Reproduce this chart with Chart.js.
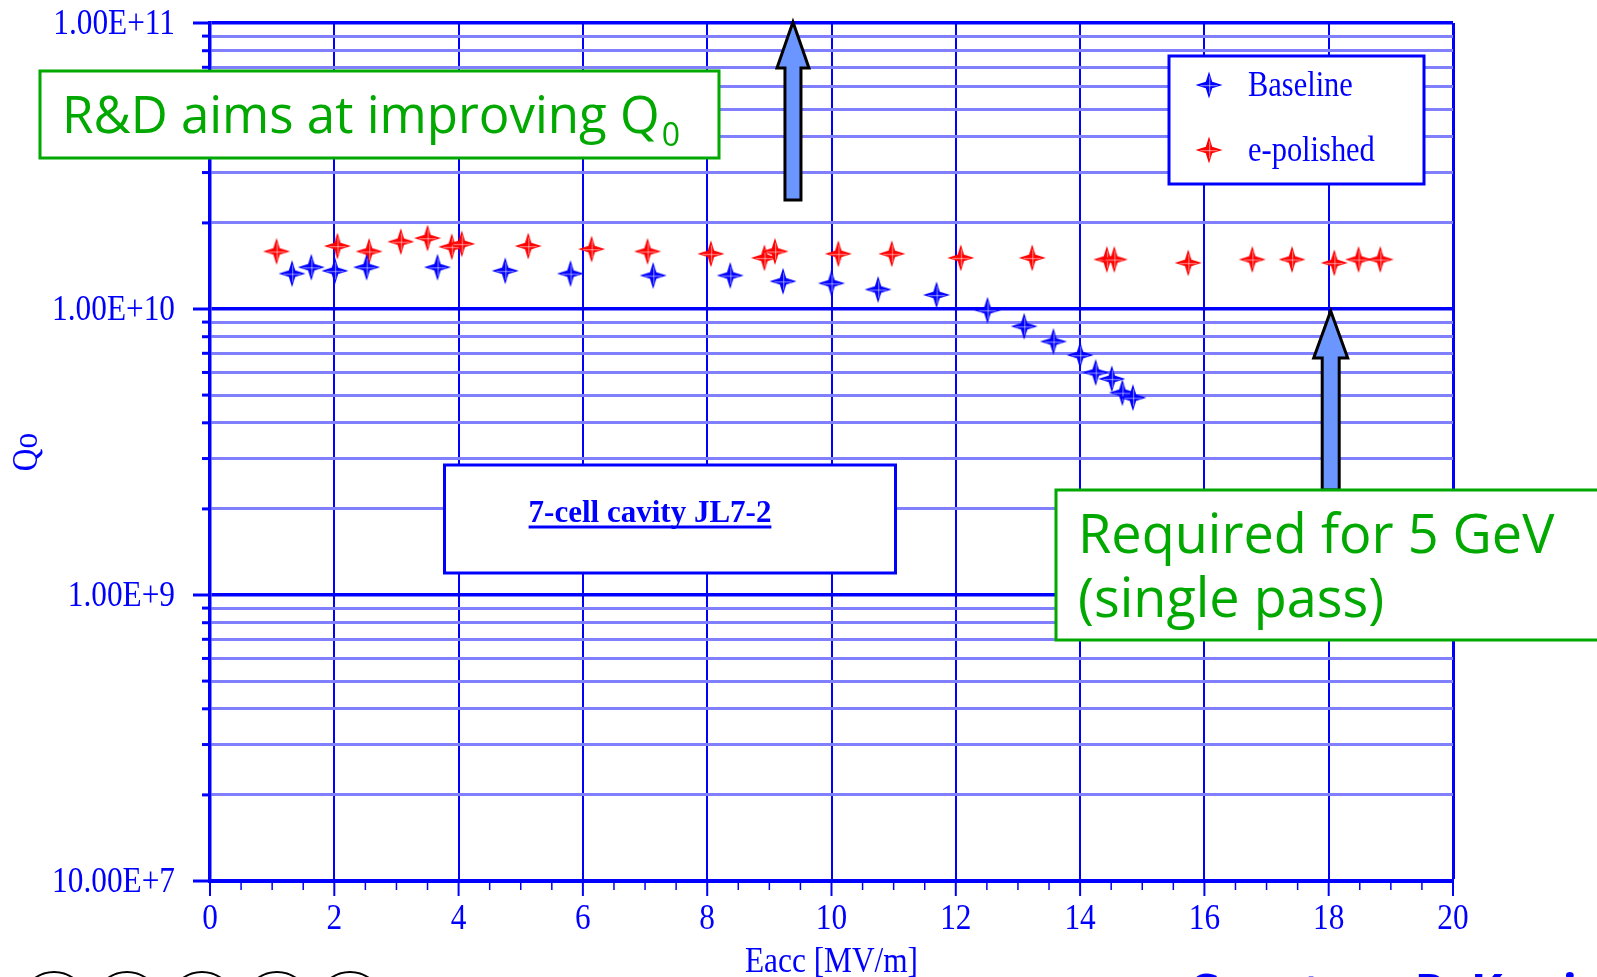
<!DOCTYPE html>
<html lang="en">
<head>
    <meta charset="UTF-8">
    <title>Q0 vs Eacc - 7-cell cavity JL7-2</title>
    <script src="https://cdn.jsdelivr.net/npm/chart.js"></script>
    <style>
        body {
            margin: 0;
            background: #ffffff;
        }
        #contenedor {
            position: relative;
            width: 1597px;
            height: 977px;
        }
    </style>
</head>
<body>
<div id="contenedor"><canvas id="grafica"></canvas></div>
<script>
// Baseline (blue): Eacc [MV/m] and Q0
const baselineEacc = [1.32, 1.63, 2.01, 2.52, 3.66, 4.75, 5.80, 7.13, 8.37, 9.22, 10.0,
    10.75, 11.69, 12.51, 13.10, 13.57, 14.0, 14.25, 14.51, 14.68, 14.85];
const baselineQ0 = [1.33e10, 1.40e10, 1.36e10, 1.40e10, 1.40e10, 1.36e10, 1.33e10, 1.31e10, 1.31e10, 1.25e10, 1.23e10,
    1.17e10, 1.12e10, 9.9e9, 8.7e9, 7.7e9, 6.9e9, 6.0e9, 5.7e9, 5.1e9, 4.9e9];

// e-polished (red)
const polishedEacc = [1.07, 2.05, 2.56, 3.07, 3.50, 3.89, 4.05, 5.12, 6.14, 7.04, 8.06, 8.92, 9.09,
    10.11, 10.97, 12.08, 13.23, 14.43, 14.55, 15.74, 16.77, 17.41, 18.09, 18.48, 18.83];
const polishedQ0 = [1.59e10, 1.66e10, 1.59e10, 1.72e10, 1.77e10, 1.65e10, 1.69e10, 1.66e10, 1.62e10, 1.59e10, 1.56e10, 1.51e10, 1.59e10,
    1.56e10, 1.56e10, 1.51e10, 1.51e10, 1.49e10, 1.49e10, 1.45e10, 1.49e10, 1.49e10, 1.45e10, 1.49e10, 1.49e10];

// axes
const xMin = 0, xMax = 20, xStep = 2, xMinorStep = 0.5;
const yTickValues = [1e8, 1e9, 1e10, 1e11];
const yTickLabels = ['10.00E+7', '1.00E+9', '1.00E+10', '1.00E+11'];
const xTitle = 'Eacc [MV/m]';
const yTitle = 'Qo';

// annotations
const seriesNames = ['Baseline', 'e-polished'];
const boxTitle = '7-cell cavity JL7-2';
const noteRD = ['R&D aims at improving Q', '0'];
const noteRequired = ['Required for 5 GeV', '(single pass)'];
const noteCredit = 'Courtesy P. Kneisel';
const arrowUpAt = [9.38, 1e11];     // punta de la flecha R&D (Eacc, Q0)
const arrowRequiredAt = [18, 1e10]; // punta de la flecha 5 GeV (Eacc, Q0)

const AZUL = '#0000ff';
const AZUL_CLARO = '#8080ff';
const VERDE = '#00a800';
const SERIF = '"Liberation Serif", "Times New Roman", serif';
const SANS = '"Open Sans", sans-serif';

// estrella de 4 puntas como marcador
function estrella(color) {
    const c = document.createElement('canvas');
    c.width = 30; c.height = 30;
    const g = c.getContext('2d');
    const m = 15, R = 13.5, r = 3.2;
    g.beginPath();
    g.moveTo(m, m - R);
    g.lineTo(m + r, m - r);
    g.lineTo(m + R, m);
    g.lineTo(m + r, m + r);
    g.lineTo(m, m + R);
    g.lineTo(m - r, m + r);
    g.lineTo(m - R, m);
    g.lineTo(m - r, m - r);
    g.closePath();
    g.fillStyle = color;
    g.fill();
    g.strokeStyle = 'rgba(255,255,255,0.8)';
    g.lineWidth = 0.7;
    g.beginPath();
    g.moveTo(m + 0.7, m - R + 5); g.lineTo(m + 0.7, m + R - 5);
    g.moveTo(m - R + 5, m + 0.7); g.lineTo(m + R - 5, m + 0.7);
    g.stroke();
    return c;
}

const esDecada = v => yTickValues.some(d => Math.abs(v / d - 1) < 1e-6);

// texto serif algo estrechado, como en la figura original
function textoEstrecho(ctx, txt, x, y, align, size, rot) {
    ctx.save();
    ctx.translate(x, y);
    if (rot) ctx.rotate(rot);
    ctx.scale(0.87, 1);
    ctx.font = size + 'px ' + SERIF;
    ctx.textAlign = align;
    ctx.textBaseline = 'alphabetic';
    ctx.fillStyle = AZUL;
    ctx.fillText(txt, 0, 0);
    ctx.restore();
}

function flecha(ctx, x, yTip, yBase, yBottom, head, shaft) {
    ctx.beginPath();
    ctx.moveTo(x, yTip);
    ctx.lineTo(x + head, yBase);
    ctx.lineTo(x + shaft, yBase);
    ctx.lineTo(x + shaft, yBottom);
    ctx.lineTo(x - shaft, yBottom);
    ctx.lineTo(x - shaft, yBase);
    ctx.lineTo(x - head, yBase);
    ctx.closePath();
    ctx.fillStyle = '#6b96ff';
    ctx.fill();
    ctx.lineWidth = 3;
    ctx.lineJoin = 'miter';
    ctx.strokeStyle = '#000000';
    ctx.stroke();
}

function caja(ctx, x, y, w, h, color) {
    ctx.fillStyle = '#ffffff';
    ctx.fillRect(x, y, w, h);
    ctx.lineWidth = 3;
    ctx.strokeStyle = color;
    ctx.strokeRect(x, y, w, h);
}

const decoraciones = {
    id: 'decoraciones',
    afterDraw(chart) {
        const ctx = chart.ctx;
        const xs = chart.scales.x, ys = chart.scales.y;
        const area = chart.chartArea;
        ctx.save();

        // marcas y etiquetas del eje y
        ctx.strokeStyle = AZUL;
        ctx.lineWidth = 3;
        ys.ticks.forEach(t => {
            const y = ys.getPixelForValue(t.value);
            const len = esDecada(t.value) ? 17 : 8;
            ctx.beginPath();
            ctx.moveTo(area.left - len, y);
            ctx.lineTo(area.left, y);
            ctx.stroke();
        });
        yTickValues.forEach((v, i) => {
            textoEstrecho(ctx, yTickLabels[i], area.left - 35, ys.getPixelForValue(v) + 11, 'right', 36);
        });

        // marcas y etiquetas del eje x
        for (let v = xMin; v <= xMax + 1e-9; v += xMinorStep) {
            const x = xs.getPixelForValue(v);
            const mayor = Math.abs(v / xStep - Math.round(v / xStep)) < 1e-9;
            ctx.lineWidth = mayor ? 2 : 1.5;
            ctx.beginPath();
            ctx.moveTo(x, area.bottom);
            ctx.lineTo(x, area.bottom + (mayor ? 15 : 9));
            ctx.stroke();
            if (mayor) textoEstrecho(ctx, String(Math.round(v)), x, area.bottom + 48, 'center', 36);
        }

        // titulos de los ejes
        textoEstrecho(ctx, xTitle, (area.left + area.right) / 2, 972, 'center', 36);
        textoEstrecho(ctx, yTitle, 37, (area.top + area.bottom) / 2, 'center', 36, -Math.PI / 2);

        // flechas
        const a1x = xs.getPixelForValue(arrowUpAt[0]);
        const a1y = ys.getPixelForValue(arrowUpAt[1]);
        flecha(ctx, a1x, a1y - 1, a1y + 45, 200, 16, 8);
        const a2x = xs.getPixelForValue(arrowRequiredAt[0]) + 2;
        const a2y = ys.getPixelForValue(arrowRequiredAt[1]);
        flecha(ctx, a2x, a2y + 2, a2y + 49, 490, 17, 8.5);

        // caja R&D
        caja(ctx, 40, 71, 679, 87, VERDE);
        ctx.fillStyle = VERDE;
        ctx.textBaseline = 'alphabetic';
        ctx.textAlign = 'left';
        ctx.font = '500 51px ' + SANS;
        ctx.fillText(noteRD[0], 62, 133);
        const w1 = ctx.measureText(noteRD[0]).width;
        ctx.font = '500 32px ' + SANS;
        ctx.fillText(noteRD[1], 62 + w1 + 2, 146);

        // caja "Required"
        caja(ctx, 1056, 490, 620, 150, VERDE);
        ctx.fillStyle = VERDE;
        ctx.font = '500 54px ' + SANS;
        ctx.fillText(noteRequired[0], 1078, 553);
        ctx.fillText(noteRequired[1], 1078, 617);

        // caja del titulo
        caja(ctx, 444.5, 465, 451, 108, AZUL);
        ctx.fillStyle = AZUL;
        ctx.font = 'bold 31px ' + SERIF;
        ctx.textAlign = 'center';
        ctx.fillText(boxTitle, 650, 522);
        const wt = ctx.measureText(boxTitle).width;
        ctx.fillRect(650 - wt / 2, 525.5, wt, 3);

        // leyenda
        caja(ctx, 1169, 56, 255, 128, AZUL);
        chart.data.datasets.forEach((ds, i) => {
            const y = 85 + i * 65;
            const img = ds.pointStyle;
            ctx.drawImage(img, 1209 - img.width / 2, y - img.height / 2);
            textoEstrecho(ctx, ds.label, 1248, y + 11, 'left', 35);
        });

        // pie: circulos y credito (cortados por el borde)
        ctx.strokeStyle = '#000000';
        ctx.lineWidth = 2;
        [54, 127, 202, 277, 350].forEach(cx => {
            ctx.beginPath();
            ctx.arc(cx, 1005, 33, 0, Math.PI * 2);
            ctx.stroke();
        });
        ctx.fillStyle = AZUL;
        ctx.textAlign = 'left';
        ctx.textBaseline = 'alphabetic';
        ctx.font = 'bold 48px ' + SANS;
        ctx.fillText(noteCredit, 1188, 1009);

        ctx.restore();
    }
};

const ctx = document.getElementById('grafica').getContext('2d');
new Chart(ctx, {
    type: 'scatter',
    data: {
        datasets: [{
            label: seriesNames[0],
            data: baselineEacc.map((x, i) => ({ x: x, y: baselineQ0[i] })),
            pointStyle: estrella('#0000ff')
        }, {
            label: seriesNames[1],
            data: polishedEacc.map((x, i) => ({ x: x, y: polishedQ0[i] })),
            pointStyle: estrella('#ff0000')
        }]
    },
    plugins: [decoraciones],
    options: {
        responsive: true,
        maintainAspectRatio: false,
        animation: false,
        layout: { padding: { top: 23, right: 144, left: 0, bottom: 0 } },
        plugins: {
            legend: { display: false },
            tooltip: { enabled: false }
        },
        scales: {
            x: {
                type: 'linear',
                min: xMin,
                max: xMax,
                afterFit: s => {
                    s.height = 96;
                    s.paddingLeft = 0;
                    s.paddingRight = 0;
                },
                ticks: { display: false, stepSize: xStep },
                grid: {
                    color: AZUL,
                    lineWidth: c => (c.tick && c.tick.value === xMax ? 3 : 2),
                    drawTicks: false
                },
                border: { color: AZUL, width: 4 }
            },
            y: {
                type: 'logarithmic',
                min: yTickValues[0],
                max: yTickValues[yTickValues.length - 1],
                afterFit: s => {
                    s.width = 210;
                    s.paddingTop = 0;
                    s.paddingBottom = 0;
                },
                afterBuildTicks: s => {
                    const t = [];
                    for (let i = 0; i < yTickValues.length - 1; i++) {
                        for (let k = 1; k <= 9; k++) t.push({ value: yTickValues[i] * k });
                    }
                    t.push({ value: yTickValues[yTickValues.length - 1] });
                    s.ticks = t;
                },
                ticks: { display: false, autoSkip: false },
                grid: {
                    color: c => (c.tick && esDecada(c.tick.value) ? AZUL : AZUL_CLARO),
                    lineWidth: c => (c.tick && esDecada(c.tick.value) ? 3.5 : 3),
                    drawTicks: false
                },
                border: { color: AZUL, width: 3.5 }
            }
        }
    }
});
</script>
</body>
</html>
